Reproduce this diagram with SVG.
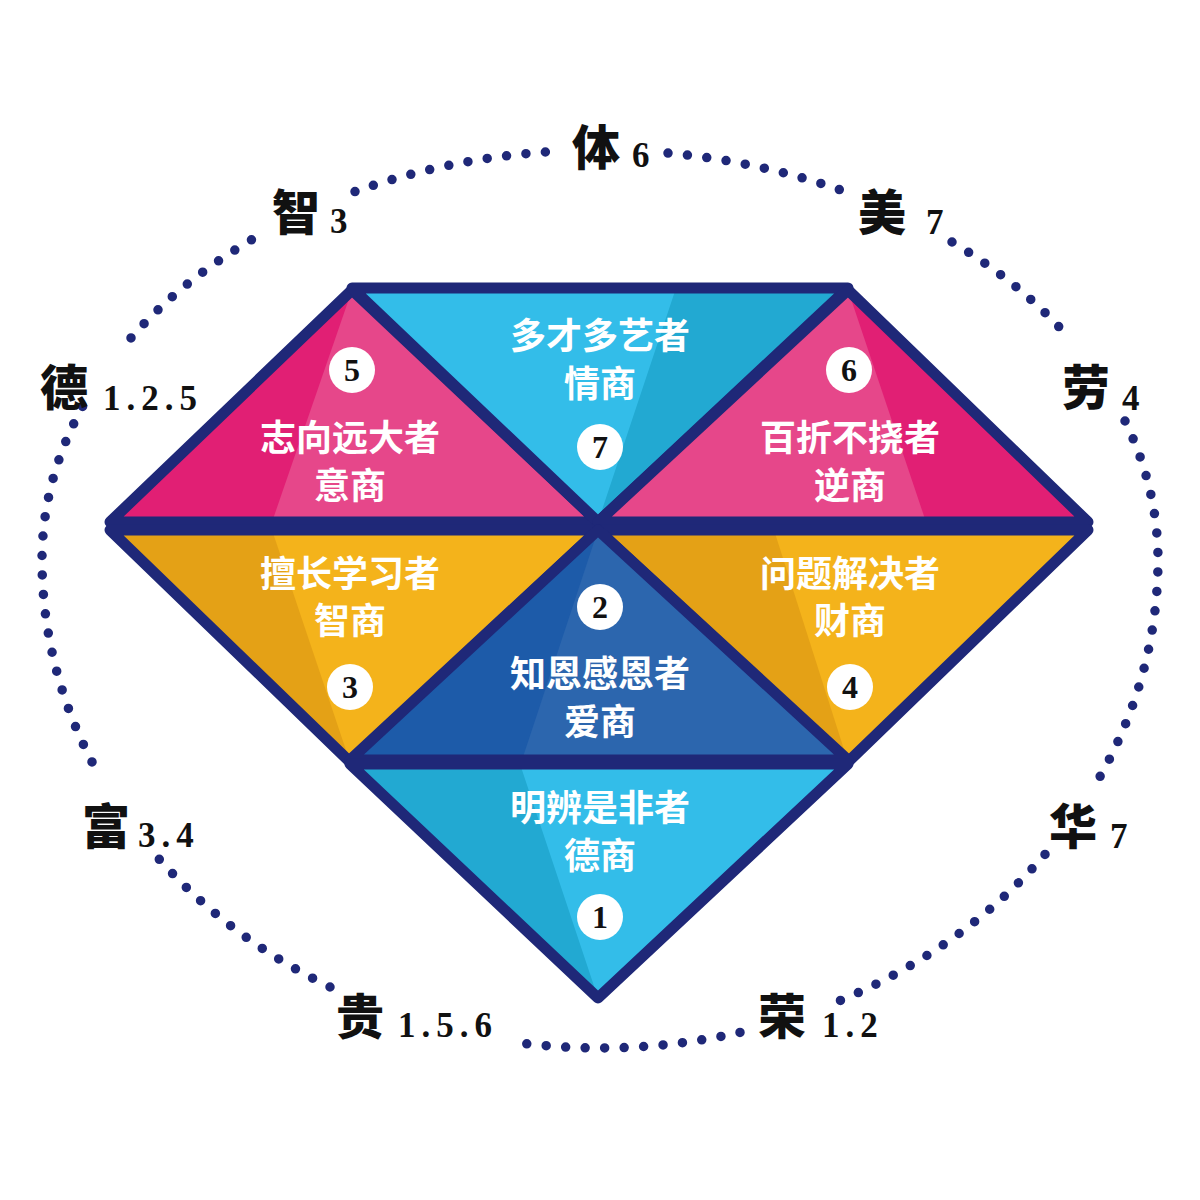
<svg xmlns="http://www.w3.org/2000/svg" width="1200" height="1200" viewBox="0 0 1200 1200">
<style>
.edge{stroke:#1f2878;stroke-width:11;stroke-linejoin:round;stroke-linecap:round}
.dots{fill:none;stroke:#1f2878;stroke-width:9.5;stroke-linecap:round;stroke-dasharray:0 19.5}
.in{font-family:"Noto Sans CJK SC","Noto Sans",sans-serif;font-weight:700;font-size:36px;fill:#ffffff;text-anchor:middle}
.num{font-family:"Liberation Serif","DejaVu Serif",serif;font-weight:700;font-size:32px;fill:#111111;text-anchor:middle}
.lab{font-family:"Noto Sans CJK SC","Noto Sans",sans-serif;font-weight:900;font-size:48px;fill:#111111;text-anchor:middle}
.val{font-family:"Liberation Serif","DejaVu Serif",serif;font-weight:700;font-size:35px;fill:#111111;letter-spacing:6px}
.pkL{fill:#e6478a}.pkD{fill:#e11f74}
.bL{fill:#33bde9}.bD{fill:#22a9d2}
.oL{fill:#f4b31b}.oD{fill:#e4a116}
.cL{fill:#2c66ae}.cD{fill:#1d5ba9}
</style>
<rect width="1200" height="1200" fill="#ffffff"/>

<g id="ring">
<path class="dots" d="M668,153.1 A558,410 0 0 1 845,191.6"/>
<path class="dots" d="M952,242 A558,410 0 0 1 1060,327.9"/>
<path class="dots" d="M1125,421 A558,410 0 0 1 1158,560 A558,488 0 0 1 1100,776.6"/>
<path class="dots" d="M1045,854.4 A558,488 0 0 1 838,1001.4"/>
<path class="dots" d="M740,1032.4 A558,488 0 0 1 510,1041.6"/>
<path class="dots" d="M330,987 A558,488 0 0 1 150,848.5"/>
<path class="dots" d="M92,761.9 A558,488 0 0 1 42,560 A558,410 0 0 1 83,405.7"/>
<path class="dots" d="M131,337.9 A558,410 0 0 1 262,233.8"/>
<path class="dots" d="M355,191.6 A558,410 0 0 1 548,151.8"/>
</g>

<g id="tri-5">
<polygon class="pkL" points="352,290 110,522 598,522"/>
<polygon class="pkD" points="352,290 110,522 272,522"/>
<polygon class="edge" fill="none" points="352,290 110,522 598,522"/>
</g>
<g id="tri-7">
<polygon class="bL" points="352,288 848,288 598,522"/>
<polygon class="bD" points="676,288 848,288 598,522"/>
<polygon class="edge" fill="none" points="352,288 848,288 598,522"/>
</g>
<g id="tri-6">
<polygon class="pkL" points="848,290 1088,522 598,522"/>
<polygon class="pkD" points="848,290 1088,522 926,522"/>
<polygon class="edge" fill="none" points="848,290 1088,522 598,522"/>
</g>
<g id="tri-3">
<polygon class="oL" points="110,530 598,530 350,762"/>
<polygon class="oD" points="110,530 272,530 350,762"/>
<polygon class="edge" fill="none" points="110,530 598,530 350,762"/>
</g>
<g id="tri-4">
<polygon class="oL" points="598,530 1088,530 848,762"/>
<polygon class="oD" points="598,530 774,530 848,762"/>
<polygon class="edge" fill="none" points="598,530 1088,530 848,762"/>
</g>
<g id="tri-2">
<polygon class="cL" points="598,530 350,760 848,760"/>
<polygon class="cD" points="598,530 350,760 522,760"/>
<polygon class="edge" fill="none" points="598,530 350,760 848,760"/>
</g>
<g id="tri-1">
<polygon class="bL" points="350,764 848,764 598,998"/>
<polygon class="bD" points="350,764 520,764 598,998"/>
<polygon class="edge" fill="none" points="350,764 848,764 598,998"/>
</g>

<g id="node-7">
<text class="in" x="600" y="349">多才多艺者</text>
<text class="in" x="600" y="397">情商</text>
<circle cx="600" cy="447" r="23" fill="#ffffff"/>
<text class="num" x="600" y="458">7</text>
</g>
<g id="node-5">
<circle cx="352" cy="370" r="23" fill="#ffffff"/>
<text class="num" x="352" y="381">5</text>
<text class="in" x="350" y="451">志向远大者</text>
<text class="in" x="350" y="499">意商</text>
</g>
<g id="node-6">
<circle cx="849" cy="370" r="23" fill="#ffffff"/>
<text class="num" x="849" y="381">6</text>
<text class="in" x="850" y="451">百折不挠者</text>
<text class="in" x="850" y="499">逆商</text>
</g>
<g id="node-3">
<text class="in" x="350" y="587">擅长学习者</text>
<text class="in" x="350" y="634">智商</text>
<circle cx="350" cy="687" r="23" fill="#ffffff"/>
<text class="num" x="350" y="698">3</text>
</g>
<g id="node-2">
<circle cx="600" cy="607" r="23" fill="#ffffff"/>
<text class="num" x="600" y="618">2</text>
<text class="in" x="600" y="687">知恩感恩者</text>
<text class="in" x="600" y="735">爱商</text>
</g>
<g id="node-4">
<text class="in" x="850" y="587">问题解决者</text>
<text class="in" x="850" y="634">财商</text>
<circle cx="850" cy="687" r="23" fill="#ffffff"/>
<text class="num" x="850" y="698">4</text>
</g>
<g id="node-1">
<text class="in" x="600" y="821">明辨是非者</text>
<text class="in" x="600" y="869">德商</text>
<circle cx="600" cy="917" r="23" fill="#ffffff"/>
<text class="num" x="600" y="928">1</text>
</g>

<g id="labels">
<g id="l-ti"><text class="lab" x="596" y="165">体</text><text class="val" x="632" y="167">6</text></g>
<g id="l-zhi"><text class="lab" x="296" y="230">智</text><text class="val" x="330" y="233">3</text></g>
<g id="l-mei"><text class="lab" x="882" y="230">美</text><text class="val" x="926" y="234">7</text></g>
<g id="l-lao"><text class="lab" x="1086" y="405">劳</text><text class="val" x="1122" y="410">4</text></g>
<g id="l-de"><text class="lab" x="64" y="405">德</text><text class="val" x="103" y="410">1.2.5</text></g>
<g id="l-fu"><text class="lab" x="106" y="844">富</text><text class="val" x="138" y="847">3.4</text></g>
<g id="l-gui"><text class="lab" x="360" y="1034">贵</text><text class="val" x="398" y="1037">1.5.6</text></g>
<g id="l-rong"><text class="lab" x="782" y="1034">荣</text><text class="val" x="822" y="1037">1.2</text></g>
<g id="l-hua"><text class="lab" x="1073" y="844">华</text><text class="val" x="1110" y="848">7</text></g>
</g>
</svg>
